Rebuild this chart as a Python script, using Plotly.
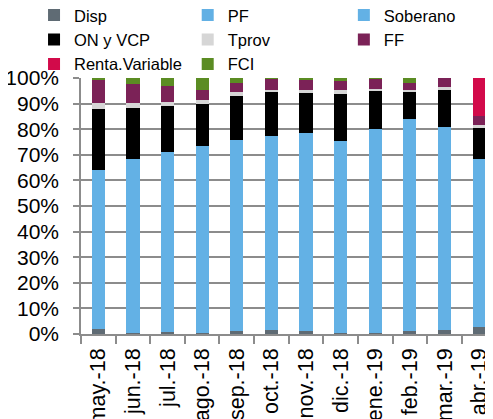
import plotly.graph_objects as go

categories = ["may.-18", "jun.-18", "jul.-18", "ago.-18", "sep.-18", "oct.-18",
              "nov.-18", "dic.-18", "ene.-19", "feb.-19", "mar.-19", "abr.-19"]

disp      = [2.1, 0.2, 0.7, 0.3, 1.1, 1.4, 1.1, 0.2, 0.7, 1.0, 1.5, 2.7]
pf        = [0.0, 0.0, 0.0, 0.0, 0.0, 0.0, 0.0, 0.0, 0.4, 0.0, 0.0, 0.0]
soberano  = [61.9, 68.0, 70.3, 73.3, 74.6, 76.0, 77.6, 75.1, 79.1, 82.9, 79.5, 65.7]
on_vcp    = [24.0, 20.0, 17.9, 16.4, 17.2, 17.1, 15.4, 18.3, 14.7, 10.6, 14.4, 12.2]
tprov     = [2.3, 1.9, 1.6, 1.6, 1.6, 1.0, 1.3, 1.8, 0.9, 1.0, 1.0, 0.9]
ff        = [9.1, 7.4, 6.3, 3.9, 3.6, 4.3, 3.9, 3.4, 3.9, 2.5, 3.6, 3.6]
renta_var = [0.0, 0.0, 0.0, 0.0, 0.0, 0.0, 0.0, 0.0, 0.0, 0.0, 0.0, 14.9]
fci       = [0.6, 2.5, 3.2, 4.5, 1.9, 0.2, 0.7, 1.2, 0.3, 2.0, 0.0, 0.0]

y_tick_vals = list(range(0, 101, 10))
y_tick_text = [f"{v}%" for v in y_tick_vals]

# (name, values, colour, legend column)
series = [
    ("Disp", disp, "#5f6b74", "legend"),
    ("PF", pf, "#62b0e4", "legend2"),
    ("Soberano", soberano, "#63b1e5", "legend3"),
    ("ON y VCP", on_vcp, "#000000", "legend"),
    ("Tprov", tprov, "#d6d6d6", "legend2"),
    ("FF", ff, "#7b2257", "legend3"),
    ("Renta.Variable", renta_var, "#d20a4a", "legend"),
    ("FCI", fci, "#5b8c23", "legend2"),
]

fig = go.Figure()
for name, vals, color, leg in series:
    fig.add_trace(go.Bar(x=categories, y=vals, name=name, legend=leg,
                         marker=dict(color=color, line=dict(width=0))))

axis_gray = "#8c8c8c"
leg_common = dict(orientation="v", xanchor="left", y=1.313, yanchor="top",
                  traceorder="normal", tracegroupgap=0,
                  font=dict(family="Liberation Sans, Arial, sans-serif", size=16.5),
                  bgcolor="rgba(0,0,0,0)", itemclick=False)

fig.update_layout(
    width=485, height=411,
    barmode="stack", barnorm="percent", bargap=0.62,
    plot_bgcolor="white", paper_bgcolor="white",
    margin=dict(l=73, r=0, t=69.5, b=84.5, autoexpand=False),
    font=dict(family="Liberation Sans, Arial, sans-serif", size=20, color="#000000"),
    legend=dict(x=-0.114, **leg_common),
    legend2=dict(x=0.259, **leg_common),
    legend3=dict(x=0.638, **leg_common),
    showlegend=True,
)
fig.update_xaxes(type="category", range=[-0.5, 11.4], tickangle=-90,
                 showline=True, linecolor=axis_gray, linewidth=1.5,
                 ticks="outside", tickson="boundaries", ticklen=8, tickcolor=axis_gray,
                 tickwidth=1.5, showgrid=False, automargin=False,
                 ticklabelstandoff=4, tickfont=dict(size=21.5))
fig.update_yaxes(range=[0, 100], tickmode="array", tickvals=y_tick_vals,
                 ticktext=y_tick_text,
                 showline=True, linecolor=axis_gray, linewidth=1.5,
                 ticks="outside", ticklen=6, tickcolor=axis_gray, tickwidth=1.5,
                 showgrid=True, gridcolor=axis_gray, gridwidth=1.5,
                 zeroline=False, automargin=False, ticklabelstandoff=10,
                 tickfont=dict(size=21))

fig.write_html("out.html")
